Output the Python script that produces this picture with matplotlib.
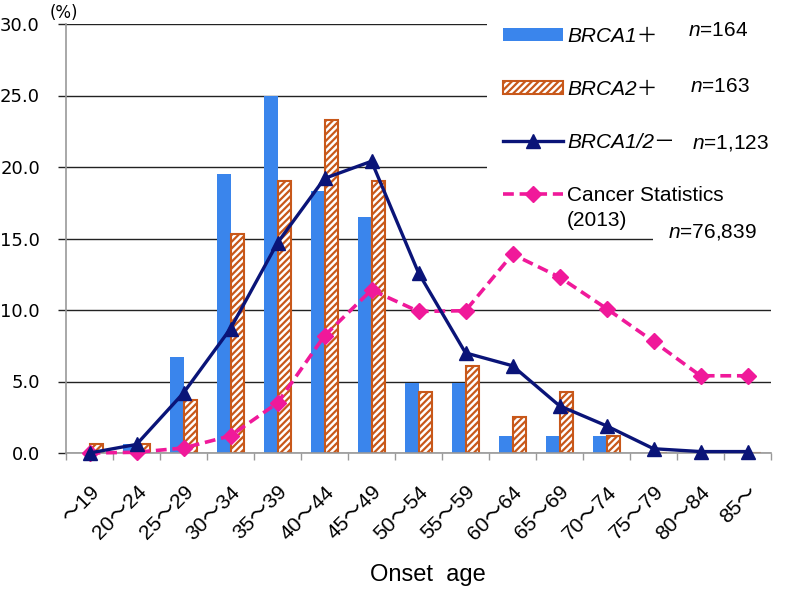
import matplotlib
matplotlib.use("Agg")
import matplotlib.pyplot as plt
import numpy as np
from matplotlib.patches import Patch, Rectangle
from matplotlib.lines import Line2D

categories = ["～19", "20～24", "25～29", "30～34", "35～39", "40～44", "45～49",
              "50～54", "55～59", "60～64", "65～69", "70～74", "75～79", "80～84", "85～"]
brca1_pos = [0.0, 0.6, 6.7, 19.5, 25.0, 18.3, 16.5, 4.9, 4.9, 1.2, 1.2, 1.2, 0.0, 0.0, 0.0]
brca2_pos = [0.6, 0.6, 3.7, 15.3, 19.0, 23.3, 19.0, 4.3, 6.1, 2.5, 4.3, 1.2, 0.0, 0.0, 0.0]
brca_neg = [0.0, 0.6, 4.2, 8.7, 14.7, 19.2, 20.4, 12.6, 7.0, 6.1, 3.3, 1.9, 0.3, 0.1, 0.1]
cancer_stats = [0.0, 0.05, 0.35, 1.2, 3.5, 8.2, 11.4, 9.9, 9.95, 13.9, 12.3, 10.1, 7.8, 5.4, 5.4]
yticks = [0.0, 5.0, 10.0, 15.0, 20.0, 25.0, 30.0]

plt.rcParams['font.family'] = ['Liberation Sans', 'Noto Sans CJK JP', 'DejaVu Sans']
plt.rcParams['hatch.linewidth'] = 1.6
plt.rcParams['mathtext.fontset'] = 'custom'
plt.rcParams['mathtext.it'] = 'Liberation Sans:italic'
plt.rcParams['mathtext.rm'] = 'Liberation Sans'

W, H = 786, 594
fig = plt.figure(figsize=(W / 100, H / 100), dpi=100)
L, R, T, B = 66, 771, 24, 453
ax = fig.add_axes([L / W, 1 - B / H, (R - L) / W, (B - T) / H])

blue = '#3A85EC'
orange = '#C8581A'
navy = '#0A1478'
pink = '#F0199A'

x = np.arange(len(categories))
bw = 0.29
ax.bar(x - bw / 2, brca1_pos, bw, color=blue, zorder=2)
ax.bar(x + bw / 2, brca2_pos, bw, facecolor='white', edgecolor=orange, hatch='/////',
       linewidth=1.5, zorder=2)
ax.plot(x, brca_neg, color=navy, lw=2.4, marker='^', ms=10, zorder=4, clip_on=False)
ax.plot(x, cancer_stats, color=pink, lw=2.6, ls=(0, (3, 1.6)), marker='D', ms=8, zorder=3,
        clip_on=False)

ax.set_xlim(-0.5, len(categories) - 0.5)
ax.set_ylim(0, 30)
ax.set_yticks(yticks)
ax.set_yticklabels([f"{v:.1f}" for v in yticks], fontfamily='DejaVu Sans', fontsize=13)
ax.yaxis.grid(True, color='#222222', lw=1.0, zorder=0.5)
ax.set_axisbelow(True)
ax.tick_params(axis='y', length=5.8, color='#222222', width=1, pad=13)

ax.set_xticks(x)
ax.set_xticklabels(categories, rotation=45, ha='right', va='top', rotation_mode='anchor',
                   fontsize=15)
ax.set_xticks(np.arange(-0.5, len(categories), 1.0), minor=True)
ax.tick_params(axis='x', which='major', length=0, pad=21)
ax.tick_params(axis='x', which='minor', length=5, color='#999999', width=1)

for s in ['top', 'right']:
    ax.spines[s].set_visible(False)
ax.spines['left'].set_color('#999999')
ax.spines['bottom'].set_color('#999999')
ax.spines['left'].set_linewidth(1.2)
ax.spines['bottom'].set_linewidth(1.2)

ax.set_xlabel("Onset  age", fontsize=17)
ax.xaxis.set_label_coords((427.5 - L) / (R - L), -(563.5 - B) / (B - T))
fig.text(50 / W, 1 - 13 / H, "(%)", fontsize=12, ha='left', va='center',
         fontfamily='DejaVu Sans')

# white background behind legend area
ax.add_patch(Rectangle(((487 - L) / (R - L), (B - 228) / (B - T)), 1.02 - (487 - L) / (R - L),
                       0.53, transform=ax.transAxes, facecolor='white', edgecolor='none',
                       zorder=1, clip_on=False))
ax.add_patch(Rectangle(((653 - L) / (R - L), 0.47), 0.2, 0.06,
                       transform=ax.transAxes, facecolor='white', edgecolor='none',
                       zorder=1, clip_on=False))

handles = [
    Patch(facecolor=blue, edgecolor=blue, linewidth=0),
    Patch(facecolor='white', edgecolor=orange, hatch='/////', linewidth=1.5),
    Line2D([], [], color=navy, lw=2.4, marker='^', ms=10),
    Line2D([], [], color=pink, lw=2.6, ls=(0, (3, 1.6)), marker='D', ms=8),
]
labels = ["BRCA1＋", "BRCA2＋", "BRCA1/2－", "Cancer Statistics"]
leg = fig.legend(handles, labels, loc='upper left', bbox_to_anchor=(484 / W, 1 - 8 / H),
                 frameon=False, fontsize=15, handlelength=2.9, handletextpad=0.2,
                 labelspacing=1.63, handleheight=0.6)
for i, t in enumerate(leg.get_texts()):
    if i < 3:
        t.set_style('italic')

fig.text(567 / W, 1 - 220 / H, "(2013)", fontsize=15, ha='left', va='center')
fs = 15
fig.text(688 / W, 1 - 31 / H, r"$\it{n}$=164", fontsize=fs, ha='left', va='center')
fig.text(690 / W, 1 - 86 / H, r"$\it{n}$=163", fontsize=fs, ha='left', va='center')
fig.text(692 / W, 1 - 143 / H, r"$\it{n}$=1,123", fontsize=fs, ha='left', va='center')
fig.text(668 / W, 1 - 232 / H, r"$\it{n}$=76,839", fontsize=fs, ha='left', va='center')

fig.savefig("out.png", dpi=100)
